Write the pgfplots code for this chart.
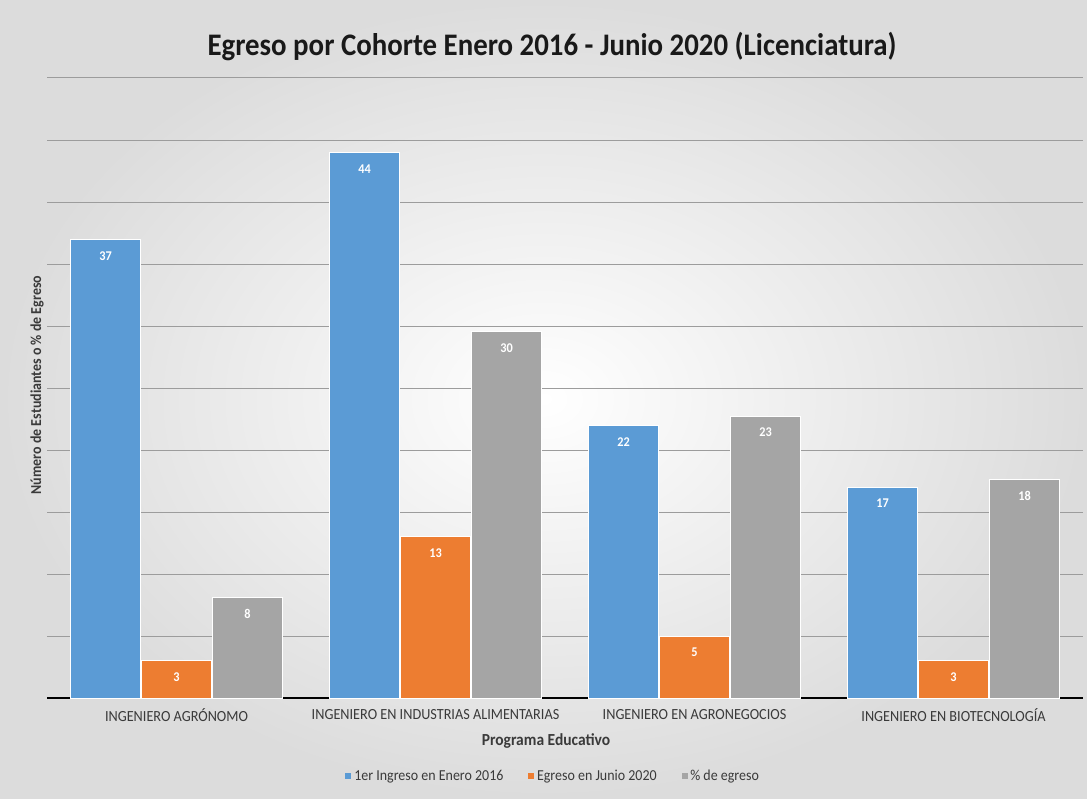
\documentclass[border=0pt]{standalone}
\usepackage{fontspec}
\setmainfont{Carlito}[FakeStretch=0.92]
\usepackage{pgfplots}
\pgfplotsset{compat=1.18}
\definecolor{cblue}{HTML}{5B9BD5}
\definecolor{corange}{HTML}{ED7D31}
\definecolor{cgray}{HTML}{A5A5A5}
\definecolor{gridgray}{HTML}{9C9C9C}
\definecolor{bgedge}{HTML}{DCDCDC}
\definecolor{darktext}{HTML}{3A3A3A}

\begin{document}
\begin{tikzpicture}
% background, 1px = 0.025cm
\shade[inner color=white, outer color=bgedge] (0,0) rectangle (27.175,19.95);
\begin{axis}[
  at={(1.175cm,2.5cm)}, anchor=south west,
  scale only axis, width=25.9cm, height=15.5cm,
  xmin=-0.5, xmax=3.5, ymin=0, ymax=50,
  ybar=0.025cm, bar width=1.75cm,
  xtick=data,
  xticklabels={INGENIERO AGRÓNOMO, INGENIERO EN INDUSTRIAS ALIMENTARIAS, INGENIERO EN AGRONEGOCIOS, INGENIERO EN BIOTECNOLOGÍA},
  xticklabel style={font=\fontsize{11}{13}\selectfont, text=darktext, yshift=-0.15cm},
  ytick={0,5,...,50}, yticklabels={},
  ymajorgrids, major grid style={gridgray, line width=0.7pt},
  major tick length=0pt,
  axis lines*=left,
  y axis line style={draw=none},
  x axis line style={black, line width=1.4pt},
  nodes near coords={\pgfmathprintnumber[fixed,precision=0,assume math mode=true]{\pgfplotspointmeta}},
  every node near coord/.append style={font=\bfseries\fontsize{9.5}{11}\selectfont, text=white, anchor=north, yshift=-5pt},
  legend style={at={(0.489,-0.126)}, anchor=center, legend columns=3, draw=none, fill=none,
    font=\fontsize{10.8}{12}\selectfont, text=darktext,
    /tikz/every even column/.append style={column sep=0.55cm}},
  legend image code/.code={\fill[#1, draw=none] (0cm,-0.075cm) rectangle (0.15cm,0.075cm);},
]
\addplot[fill=cblue, draw=white, line width=0.5pt] coordinates {(0,37) (1,44) (2,22) (3,17)};
\addlegendentry{1er Ingreso en Enero 2016}
\addplot[fill=corange, draw=white, line width=0.5pt] coordinates {(0,3) (1,13) (2,5) (3,3)};
\addlegendentry{Egreso en Junio 2020}
\addplot[fill=cgray, draw=white, line width=0.5pt] coordinates {(0,8.11) (1,29.55) (2,22.73) (3,17.65)};
\addlegendentry{\% de egreso}
\end{axis}
\node[font=\bfseries\fontsize{22.3}{26}\selectfont, text=black!90] at (13.8,18.775) {Egreso por Cohorte Enero 2016 - Junio 2020 (Licenciatura)};
\node[rotate=90, font=\bfseries\fontsize{10.8}{12}\selectfont, text=darktext] at (0.925,10.325) {Número de Estudiantes o \% de Egreso};
\node[font=\bfseries\fontsize{12}{14}\selectfont, text=darktext] at (13.65,1.425) {Programa Educativo};
\end{tikzpicture}
\end{document}
